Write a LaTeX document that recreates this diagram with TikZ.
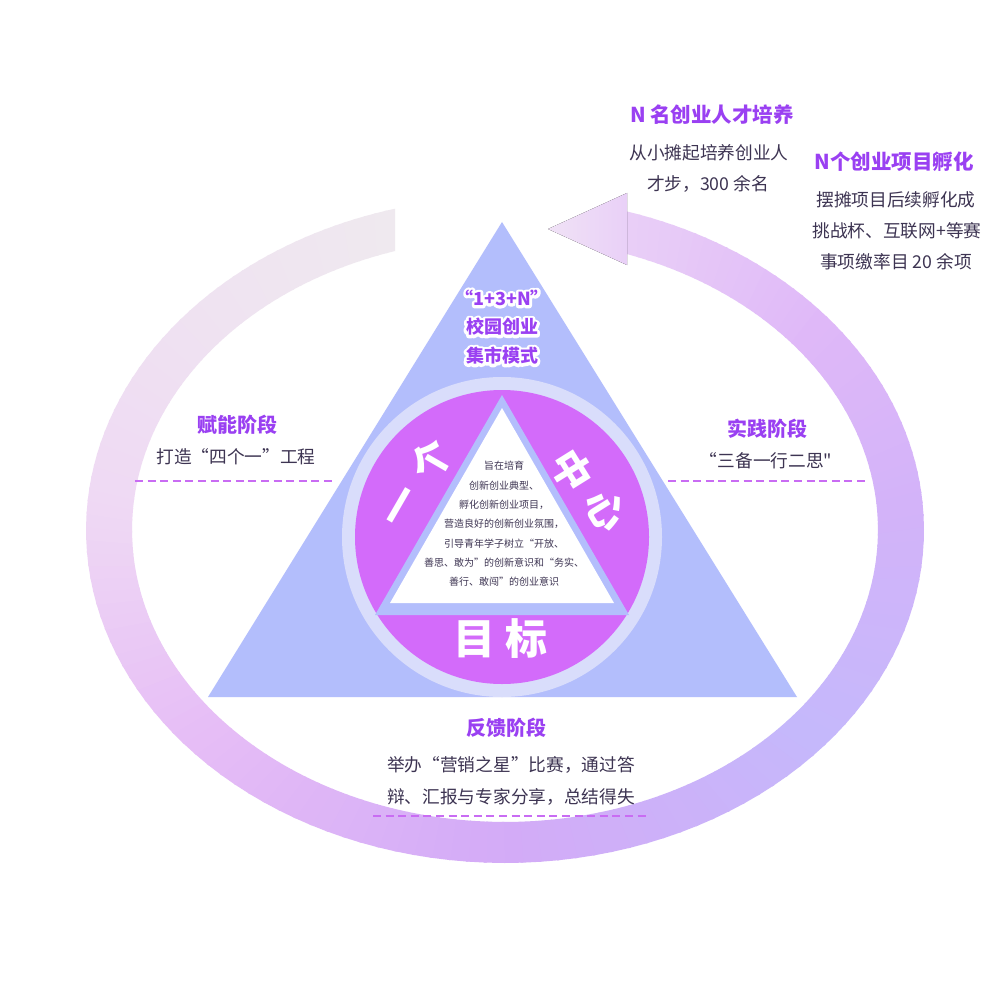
\documentclass[tikz,border=0pt]{standalone}
\usepackage{fontspec}
\setmainfont{Noto Sans CJK SC}
\newfontfamily\nomapfont{Noto Sans CJK SC}
\usetikzlibrary{calc}
\definecolor{triC}{HTML}{B3BEFC}
\definecolor{ringC}{HTML}{D9DDFB}
\definecolor{purC}{HTML}{D36BFA}
\definecolor{titC}{HTML}{9A40F2}
\definecolor{bodyC}{HTML}{3D3452}
\definecolor{dashC}{HTML}{C96CF3}
\definecolor{rA}{HTML}{E9CFF7}
\definecolor{rB}{HTML}{DFB8F8}
\definecolor{rC}{HTML}{D3B3F9}
\definecolor{rD}{HTML}{C5B8FB}
\definecolor{rE}{HTML}{D3ABF7}
\definecolor{rF}{HTML}{E6BDF6}
\definecolor{rG}{HTML}{EFD9F4}
\definecolor{rH}{HTML}{EFE3F1}
\definecolor{rI}{HTML}{EFE9EF}
\definecolor{arL}{HTML}{F0E2F6}
\definecolor{arR}{HTML}{E9D0F7}
\newcommand\oq{\makebox[1em][r]{“}}
\newcommand\cq{\makebox[1em][l]{”}}
\newcommand\halotext[1]{\special{pdf:literal direct 2 Tr 5.5 w 1 j}#1\special{pdf:literal direct 0 Tr 0.4 w 0 j}}
\tikzset{
  phasetitle/.style={text=titC, font=\fontsize{20}{24}\selectfont\bfseries, inner sep=0pt},
  toptitle/.style={text=titC, font=\fontsize{20.5}{24}\selectfont\bfseries, inner sep=0pt},
  bodytext/.style={text=bodyC, font=\fontsize{17.7}{21}\selectfont, inner sep=0pt},
  bigchar/.style={text=white, font=\fontsize{40}{44}\selectfont\bfseries, inner sep=0pt},
  smalltext/.style={text=bodyC, font=\fontsize{10}{19.3}\selectfont, align=center, inner sep=0pt},
  halobg/.style={text=white, font=\fontsize{18}{22}\selectfont\bfseries, inner sep=0pt},
  halofg/.style={text=titC, font=\fontsize{18}{22}\selectfont\bfseries, inner sep=0pt},
  sepline/.style={draw=dashC, line width=1.8pt, dash pattern=on 8pt off 4.6pt},
}
\newcommand\halonode[3]{%
  \node[halobg] (#1h) at (#2) {\halotext{#3}};
  \node[halofg] (#1) at (#2) {#3};
}
\begin{document}
\begin{tikzpicture}[x=1pt,y=-1pt]
\useasboundingbox[fill=white] (0,0) rectangle (1000,1000);
% ---- big ring (gradient by segments)
\def\cx{505}\def\cy{530}\def\rxo{419}\def\ryo{333}\def\rxi{373}\def\ryi{292}
\foreach \ta/\tb/\ca/\cb in {73.07/40/rA/rB, 40/5/rB/rC, 5/-40/rC/rD, -40/-90/rD/rE, -90/-140/rE/rF, -140/-185/rF/rG, -185/-225/rG/rH, -225/-254.78/rH/rI}{
  \foreach \j in {0,...,19}{
    \pgfmathsetmacro\tone{\ta+(\tb-\ta)*\j/20}
    \pgfmathsetmacro\ttwo{max(\ta+(\tb-\ta)*(\j+1)/20-0.35,-254.78)}
    \pgfmathtruncatemacro\pct{100-(\j+0.5)*5}
    \pgfmathsetmacro\ione{70.91+(\tone-73.07)*0.98752}
    \pgfmathsetmacro\itwo{70.91+(\ttwo-73.07)*0.98752}
    \fill[fill=\ca!\pct!\cb] ({\cx+\rxo*cos(\tone)},{\cy-\ryo*sin(\tone)}) -- ({\cx+\rxo*cos(\ttwo)},{\cy-\ryo*sin(\ttwo)}) -- ({\cx+\rxi*cos(\itwo)},{\cy-\ryi*sin(\itwo)}) -- ({\cx+\rxi*cos(\ione)},{\cy-\ryi*sin(\ione)}) -- cycle;
  }
}
% arrow head
\fill[left color=arL, right color=arR] (627,193) -- (627,265) -- (548,229) -- cycle;
% ---- pyramid
\fill[triC] (502,222) -- (797,697) -- (208,697) -- cycle;
\fill[ringC] (502,537) circle[radius=160];
\fill[purC] (502,537) circle[radius=147];
\fill[triC] (502,395) -- (629,615) -- (375,615) -- cycle;
\fill[white] (502,408) -- (614,603) -- (390,603) -- cycle;
% ---- dashed separators
\draw[sepline] (135,481) -- (335,481);
\draw[sepline] (668,481) -- (868,481);
\draw[sepline] (373,816) -- (648,816);
% ---- texts in pyramid
\halonode{m1}{502,298}{“1+3+N”}
\halonode{m2}{502,327}{校园创业}
\halonode{m3}{502,356}{集市模式}
\node[bigchar, rotate=60] (g1) at (404,508) {一};
\node[bigchar, rotate=60] (g2) at (431,460) {个};
\node[bigchar, rotate=-58] (z1) at (572,470) {中};
\node[bigchar, rotate=-58] (z2) at (606,510) {心};
\node[bigchar, font=\fontsize{42}{46}\selectfont\bfseries] (mb1) at (474,639) {目};
\node[bigchar, font=\fontsize{42}{46}\selectfont\bfseries] (mb2) at (526,639) {标};
\node[smalltext] (inner) at (504,524) {旨在培育\\创新创业典型、\\孵化创新创业项目，\\营造良好的创新创业氛围，\\引导青年学子树立\oq 开放、\\善思、敢为\cq 的创新意识和\oq 务实、\\善行、敢闯\cq 的创业意识};
% ---- phases
\node[phasetitle] (p1) at (237,425) {赋能阶段};
\node[bodytext] (p1b) at (236,457) {打造\oq 四个一\cq 工程};
\node[phasetitle] (p2) at (767,429) {实践阶段};
\node[bodytext] (p2b) at (771,461) {\makebox[0.45em][r]{“}三备一行二思{\nomapfont"}};
\node[phasetitle] (p3) at (506,728) {反馈阶段};
\node[bodytext] (p3b) at (511,765) {举办\oq 营销之星\cq 比赛，通过答};
\node[bodytext] (p3c) at (511,797) {辩、汇报与专家分享，总结得失};
% ---- top right
\node[toptitle] (t1) at (712,115) {N 名创业人才培养};
\node[bodytext] (t1a) at (709,153) {从小摊起培养创业人};
\node[bodytext] (t1b) at (708,184) {才步，300 余名};
\node[toptitle] (t2) at (894,162) {N个创业项目孵化};
\node[bodytext] (t2a) at (896,200) {摆摊项目后续孵化成};
\node[bodytext] (t2b) at (897,231) {挑战杯、互联网+等赛};
\node[bodytext] (t2c) at (896,262) {事项缴率目 20 余项};
\end{tikzpicture}
\end{document}
